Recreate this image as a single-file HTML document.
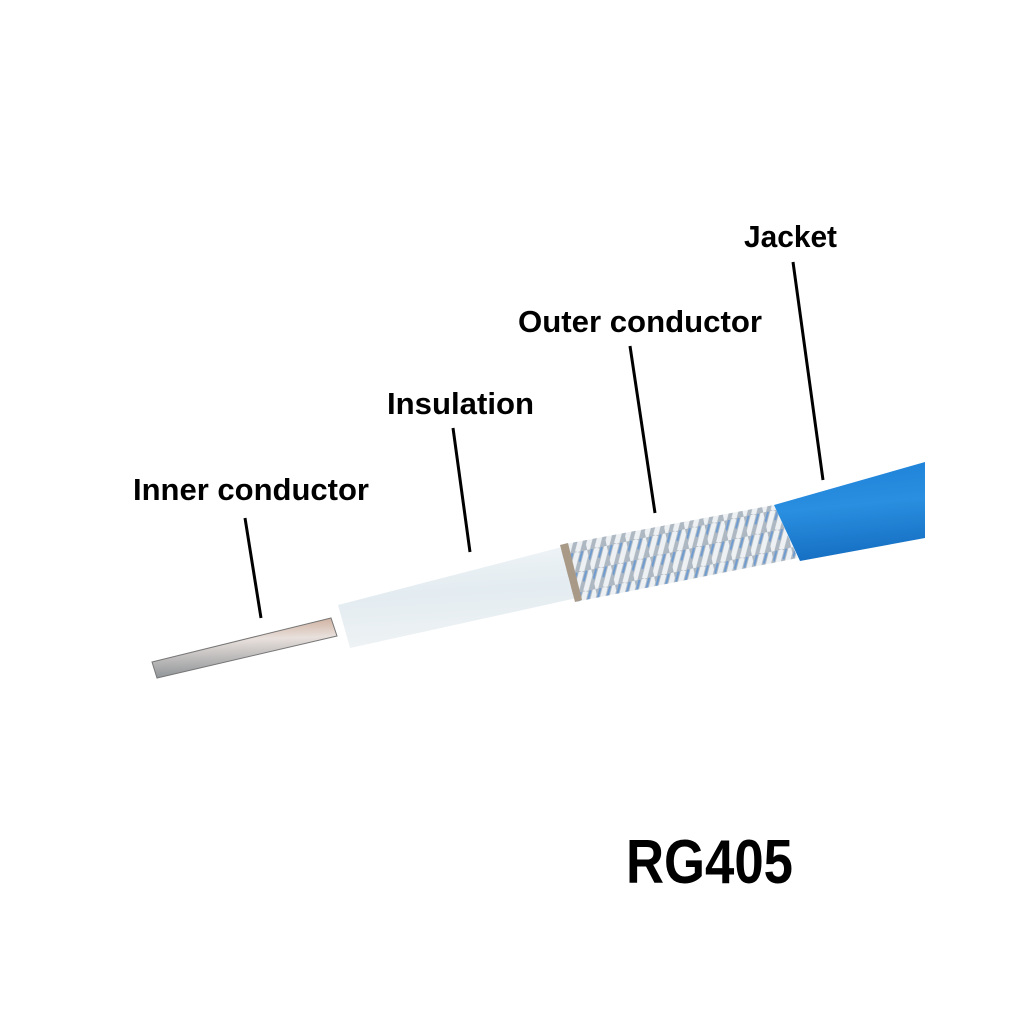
<!DOCTYPE html>
<html><head><style>html,body{margin:0;padding:0;background:#fff}svg{display:block}</style></head>
<body>
<svg width="1024" height="1024" viewBox="0 0 1024 1024" xmlns="http://www.w3.org/2000/svg">
<defs>
<linearGradient id="wire" x1="0" y1="0" x2="0.1" y2="1">
<stop offset="0" stop-color="#c9a48f"/><stop offset="0.4" stop-color="#e8e0dc"/><stop offset="1" stop-color="#8f9497"/></linearGradient>
<linearGradient id="ins" x1="0" y1="0" x2="0.15" y2="1">
<stop offset="0" stop-color="#f1f5f7"/><stop offset="0.5" stop-color="#e3ecf1"/><stop offset="1" stop-color="#eef2f4"/></linearGradient>
<linearGradient id="jk" x1="0" y1="0" x2="0.15" y2="1">
<stop offset="0" stop-color="#1c7fd6"/><stop offset="0.5" stop-color="#2a8fe0"/><stop offset="1" stop-color="#1670c4"/></linearGradient>
<pattern id="braid" width="20" height="20" patternUnits="userSpaceOnUse" patternTransform="rotate(-12)">
<rect width="20" height="20" fill="#aeb8c2"/>
<path d="M0 20 L10 0 M10 20 L20 0" stroke="#eef1f3" stroke-width="5"/>
<path d="M0 10 L5 0 M10 10 L15 0" stroke="#6f9cd0" stroke-width="2"/>
</pattern>
</defs>
<polygon points="152,662 331,618 337,636 157,678" fill="url(#wire)" stroke="#777" stroke-width="1"/>
<polygon points="338,605 562,547 577,598 350,648" fill="url(#ins)"/>
<polygon points="560,545 774,505 798,558 575,602" fill="url(#braid)"/>
<polygon points="560,545 568,543 582,600 575,602" fill="#a99a88"/>
<polygon points="774,505 925,462 925,538 800,561" fill="url(#jk)"/>
<g stroke="#000" stroke-width="3">
<line x1="245" y1="518" x2="261" y2="618"/>
<line x1="453" y1="428" x2="470" y2="552"/>
<line x1="630" y1="346" x2="655" y2="513"/>
<line x1="793" y1="262" x2="823" y2="480"/>
</g>
<g font-family="Liberation Sans, sans-serif" font-weight="bold" fill="#000">
<text x="133" y="500" font-size="31" textLength="236" lengthAdjust="spacingAndGlyphs">Inner conductor</text>
<text x="387" y="414" font-size="31" textLength="147" lengthAdjust="spacingAndGlyphs">Insulation</text>
<text x="518" y="332" font-size="31" textLength="244" lengthAdjust="spacingAndGlyphs">Outer conductor</text>
<text x="744" y="247" font-size="31" textLength="93" lengthAdjust="spacingAndGlyphs">Jacket</text>
<text x="626" y="883" font-size="62" textLength="167" lengthAdjust="spacingAndGlyphs">RG405</text>
</g>
</svg>
</body></html>
